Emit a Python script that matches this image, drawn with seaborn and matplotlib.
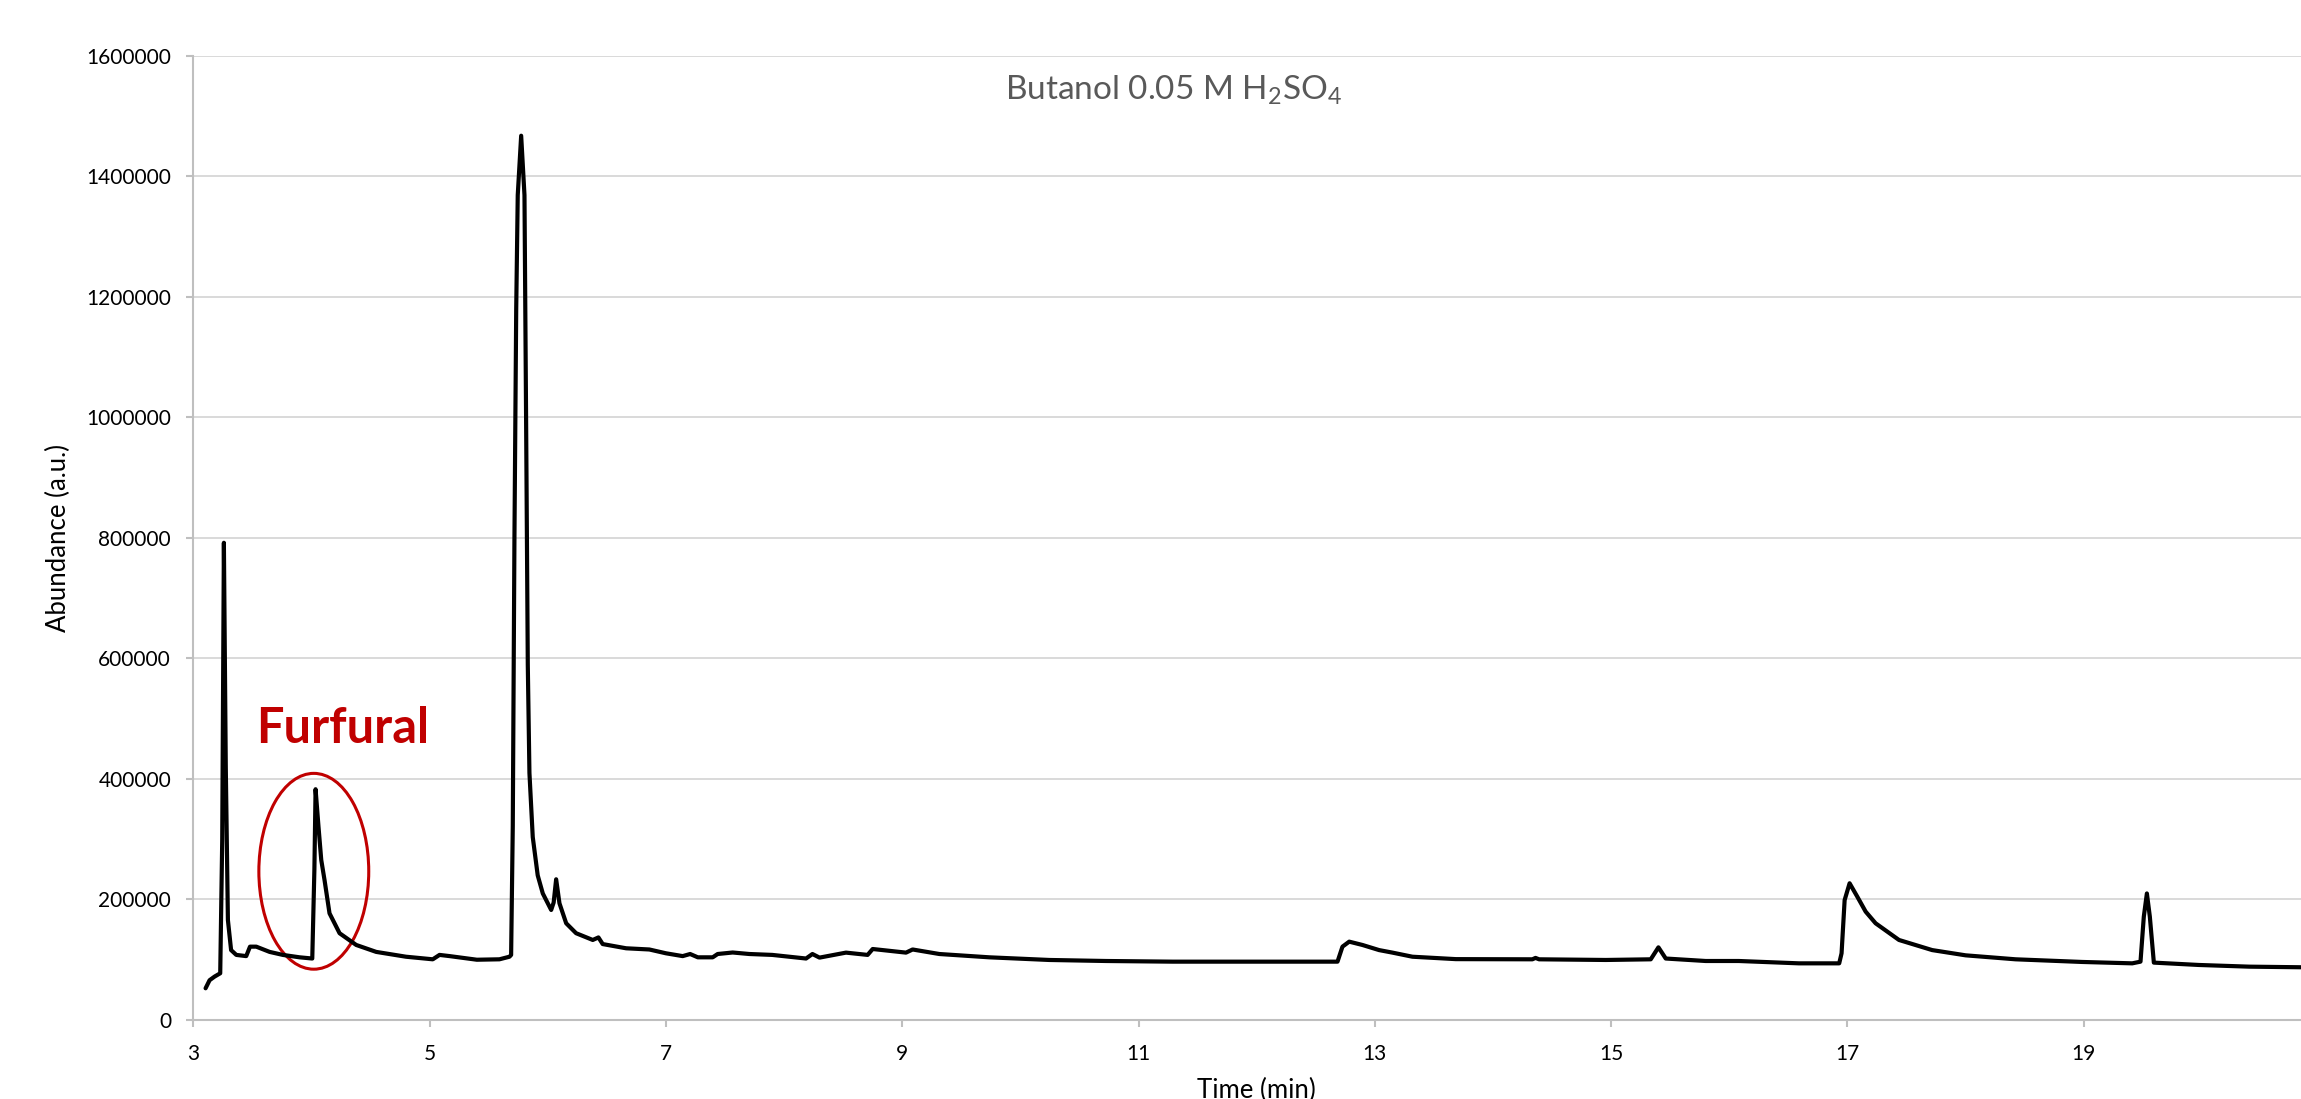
import matplotlib
matplotlib.use("Agg")
import matplotlib.pyplot as plt
from matplotlib.patches import Ellipse
import numpy as np
import pandas as pd
import seaborn as sns

# chromatogram (time in min, abundance in a.u.)
time_min = [
    3.104, 3.138, 3.18, 3.228, 3.245, 3.259, 3.275, 3.293, 3.32, 3.364, 3.448, 3.48,
    3.533, 3.646, 3.758, 3.90, 4.007, 4.025, 4.035, 4.06, 4.083, 4.111, 4.153, 4.238,
    4.379, 4.548, 4.80, 5.027, 5.084, 5.17, 5.40, 5.591, 5.676, 5.69, 5.704, 5.718,
    5.733, 5.746, 5.775, 5.803, 5.817, 5.831, 5.845, 5.873, 5.915, 5.958, 6.029, 6.05,
    6.071, 6.099, 6.156, 6.24, 6.381, 6.429, 6.465, 6.663, 6.86, 7.0, 7.142, 7.205,
    7.27, 7.396, 7.438, 7.565, 7.706, 7.90, 8.186, 8.24, 8.30, 8.524, 8.707, 8.75,
    9.032, 9.088, 9.314, 9.737, 10.245, 10.724, 11.288, 11.85, 12.684, 12.726, 12.783,
    12.895, 13.036, 13.149, 13.318, 13.685, 14.333, 14.36, 14.39, 14.954, 15.335, 15.4,
    15.462, 15.80, 16.08, 16.59, 16.93, 16.95, 16.976, 17.018, 17.083, 17.154, 17.238,
    17.436, 17.717, 18.0, 18.423, 18.986, 19.41, 19.48, 19.508, 19.534, 19.559, 19.593,
    19.974, 20.40, 20.84,
]
abundance = [
    52600, 66000, 72000, 77500, 300000, 792000, 420000, 166000, 116000, 108000, 106000, 121700,
    121700, 113000, 108000, 104000, 102000, 250000, 383000, 320000, 265600, 232000, 177000, 144000,
    124500, 113000, 105000, 100700, 108000, 106000, 100000, 100700, 105000, 108000, 322000, 798000,
    1179000, 1369000, 1467600, 1369000, 989000, 590000, 410000, 303600, 240000, 210000, 182600, 195000,
    233500, 193700, 160500, 144000, 132800, 137000, 126000, 119000, 117000, 110700, 106000, 109500,
    104000, 104000, 109500, 112000, 109500, 108000, 102000, 109500, 103500, 111800, 108000, 117800,
    111800, 117000, 109500, 104000, 99600, 97900, 96800, 96800, 96800, 121700, 130000,
    124500, 116000, 111800, 105000, 101000, 100700, 103000, 100700, 99600, 100700, 120600,
    102000, 97900, 97900, 94000, 94000, 110700, 199000, 226900, 204700, 179800, 160500,
    132800, 116000, 107300, 100700, 96300, 94000, 96800, 171500, 210000, 171500, 95200,
    91300, 88500, 87500,
]

title = r"Butanol 0.05 M H$_\mathregular{2}$SO$_\mathregular{4}$"
x_ticks = [3, 5, 7, 9, 11, 13, 15, 17, 19]
y_ticks = [0, 200000, 400000, 600000, 800000, 1000000, 1200000, 1400000, 1600000]

df = pd.DataFrame({"Time (min)": time_min, "Abundance (a.u.)": abundance})

sns.set_theme(style="whitegrid")
plt.rcParams["font.family"] = ["Lato", "DejaVu Sans"]
plt.rcParams["mathtext.fontset"] = "custom"
plt.rcParams["mathtext.rm"] = "Lato"

fig = plt.figure(figsize=(23.01, 10.99), dpi=100)
ax = fig.add_axes([0.0840, 0.0719, 0.9243, 0.8772])

sns.lineplot(data=df, x="Time (min)", y="Abundance (a.u.)", ax=ax, color="black",
             linewidth=3.0, sort=False, estimator=None)

# circle round the furfural peak
ax.add_patch(Ellipse((4.02, 246800), 0.93, 325000, fill=False, edgecolor="#C00000", linewidth=2.2))
ax.text(3.53, 460000, "Furfural", color="#C00000", fontsize=35, fontweight="bold",
        ha="left", va="baseline")

ax.set_xlim(3, 21)
ax.set_ylim(0, 1600000)
ax.set_xticks(x_ticks)
ax.set_yticks(y_ticks)
ax.set_yticklabels([str(v) for v in y_ticks])
ax.grid(axis="y", color="#D9D9D9", linewidth=1.4)
ax.grid(axis="x", visible=False)
for side in ["top", "right"]:
    ax.spines[side].set_visible(False)
for side in ["left", "bottom"]:
    ax.spines[side].set_color("#BFBFBF")
    ax.spines[side].set_linewidth(1.5)
ax.tick_params(axis="both", which="major", length=5, width=1.5, color="#BFBFBF",
               labelsize=15, labelcolor="black", direction="out", left=True, bottom=True)
ax.tick_params(axis="y", pad=11)
ax.tick_params(axis="x", pad=12)

ax.set_xlabel("Time (min)", fontsize=18.5, color="black", va="top")
ax.set_ylabel("Abundance (a.u.)", fontsize=18.5, color="black")
ax.xaxis.set_label_coords(0.5, -0.060)
ax.yaxis.set_label_coords(-0.0575, 0.5)

fig.text(0.510, 0.918, title, fontsize=24, color="#595959", ha="center", va="center")

fig.savefig("out.png", dpi=100)
